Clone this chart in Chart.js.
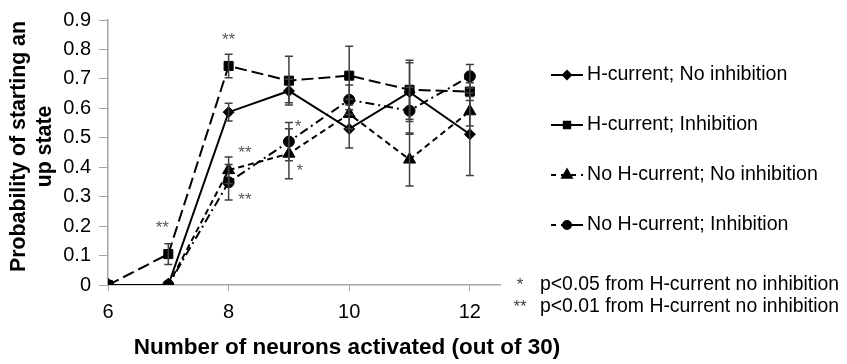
<!DOCTYPE html>
<html><head><meta charset="utf-8">
<script src="https://cdn.jsdelivr.net/npm/chart.js@4.4.1/dist/chart.umd.min.js"></script>
<style>html,body{margin:0;padding:0;background:#fff;}#wrap{width:847px;height:364px;}</style>
</head><body><div id="wrap"><canvas id="c" width="847" height="364"></canvas></div>
<script>
// ---- data ----
const neurons = [6, 7, 8, 9, 10, 11, 12];
const xTickValues = [6, 8, 10, 12];
const yTickValues = [0, 0.1, 0.2, 0.3, 0.4, 0.5, 0.6, 0.7, 0.8, 0.9];
const yTickLabels = ['0', '0.1', '0.2', '0.3', '0.4', '0.5', '0.6', '0.7', '0.8', '0.9'];
const seriesLabels = ['H-current; No inhibition', 'H-current; Inhibition', 'No H-current; No inhibition', 'No H-current; Inhibition'];
const hCurrentNoInhibition = [0, 0, 0.587, 0.659, 0.530, 0.655, 0.512];
const hCurrentNoInhibitionErr = [0, 0, 0.030, 0.040, 0.065, 0.100, 0.140];
const hCurrentInhibition = [0, 0.105, 0.744, 0.694, 0.711, 0.663, 0.657];
const hCurrentInhibitionErr = [0, 0.035, 0.040, 0.083, 0.100, 0.100, 0.030];
const noHCurrentNoInhibition = [0, 0, 0.390, 0.446, 0.581, 0.426, 0.590];
const noHCurrentNoInhibitionErr = [0, 0, 0.045, 0.085, 0.050, 0.090, 0.050];
const noHCurrentInhibition = [0, 0, 0.349, 0.487, 0.629, 0.592, 0.709];
const noHCurrentInhibitionErr = [0, 0, 0.060, 0.065, 0.050, 0.080, 0.040];
const starTexts = ['**', '**', '**', '**', '*', '*'];
const starX = [8, 8.27, 8.27, 6.9, 9.15, 9.18];
const starY = [0.845, 0.46, 0.30, 0.205, 0.55, 0.40];
const footnoteMarks = ['*', '**'];
const footnoteTexts = ['p<0.05 from H-current no inhibition', 'p<0.01 from H-current no inhibition'];
const xTitle = 'Number of neurons activated (out of 30)';
const yTitle = ['Probability of starting an', 'up state'];

// ---- styling ----
const FONT = "'Liberation Sans', Arial, sans-serif";
const AXIS = '#a6a6a6';
const values = [hCurrentNoInhibition, hCurrentInhibition, noHCurrentNoInhibition, noHCurrentInhibition];
const errs = [hCurrentNoInhibitionErr, hCurrentInhibitionErr, noHCurrentNoInhibitionErr, noHCurrentInhibitionErr];
const styles = [
  {pointStyle: 'rectRot', radius: 5.5, dash: [], legendDash: [], legendRadius: 4},
  {pointStyle: 'rect', radius: 6.4, dash: [12, 5], legendDash: [], legendRadius: 4.5},
  {pointStyle: 'triangle', radius: 7, dash: [6, 4], legendDash: [5, 5], legendRadius: 5.5},
  {pointStyle: 'circle', radius: 5.5, dash: [9, 4, 2, 4], legendDash: [5, 5, 30, 0], legendRadius: 4}
];

const datasets = values.map((vals, k) => ({
  label: seriesLabels[k],
  data: neurons.map((x, i) => ({x: x, y: vals[i]})),
  borderColor: '#000',
  backgroundColor: '#000',
  borderWidth: 2,
  borderDash: styles[k].dash,
  pointStyle: styles[k].pointStyle,
  pointRadius: styles[k].radius,
  pointBackgroundColor: '#000',
  pointBorderColor: '#000',
  pointBorderWidth: 1,
  tension: 0,
  fill: false
}));

const errorBars = {
  id: 'errorBars',
  afterDatasetsDraw(chart) {
    const {ctx, scales: {x, y}} = chart;
    ctx.save();
    ctx.strokeStyle = '#404040';
    ctx.lineWidth = 1.5;
    errs.forEach((e, k) => {
      neurons.forEach((n, i) => {
        if (!e[i]) return;
        const px = x.getPixelForValue(n);
        const top = y.getPixelForValue(values[k][i] + e[i]);
        const bot = y.getPixelForValue(values[k][i] - e[i]);
        ctx.beginPath();
        ctx.moveTo(px, top); ctx.lineTo(px, bot);
        ctx.moveTo(px - 4, top); ctx.lineTo(px + 4, top);
        ctx.moveTo(px - 4, bot); ctx.lineTo(px + 4, bot);
        ctx.stroke();
      });
    });
    ctx.restore();
  }
};

const extras = {
  id: 'extras',
  afterDraw(chart) {
    const {ctx, chartArea: a, scales: {x, y}} = chart;
    ctx.save();
    // axis titles
    ctx.fillStyle = '#000';
    ctx.textAlign = 'center';
    ctx.textBaseline = 'middle';
    ctx.font = 'bold 22.5px ' + FONT;
    ctx.fillText(xTitle, (a.left + a.right) / 2 + 43, 348);
    ctx.font = 'bold 21.3px ' + FONT;
    const ymid = (a.top + a.bottom) / 2 - 6;
    yTitle.forEach((t, i) => {
      ctx.save();
      ctx.translate(19 + i * 26, ymid);
      ctx.rotate(-Math.PI / 2);
      ctx.fillText(t, 0, 0);
      ctx.restore();
    });
    // significance stars
    ctx.fillStyle = '#595959';
    ctx.font = '17px ' + FONT;
    starTexts.forEach((t, i) => {
      ctx.fillText(t, x.getPixelForValue(starX[i]), y.getPixelForValue(starY[i]) + 4);
    });
    // legend
    const cy = (a.top + a.bottom) / 2 - 2.5;
    const rowGap = 50;
    const lx0 = a.right + 51, lx1 = a.right + 83;
    seriesLabels.forEach((lab, k) => {
      const ly = cy + (k - 1.5) * rowGap;
      ctx.strokeStyle = '#000';
      ctx.lineWidth = 2;
      ctx.setLineDash(styles[k].legendDash);
      ctx.beginPath(); ctx.moveTo(lx0, ly); ctx.lineTo(lx1, ly); ctx.stroke();
      ctx.setLineDash([]);
      ctx.fillStyle = '#000';
      Chart.helpers.drawPoint(ctx, {pointStyle: styles[k].pointStyle, radius: styles[k].legendRadius, rotation: 0, borderWidth: 1}, (lx0 + lx1) / 2, ly);
      ctx.font = '19.6px ' + FONT;
      ctx.textAlign = 'left';
      ctx.textBaseline = 'middle';
      ctx.fillStyle = '#000';
      ctx.fillText(lab, lx1 + 4, ly);
    });
    // footnotes
    footnoteTexts.forEach((t, i) => {
      const fy = a.bottom + i * 22;
      ctx.font = '17px ' + FONT;
      ctx.textAlign = 'center';
      ctx.fillStyle = '#404040';
      ctx.fillText(footnoteMarks[i], a.right + 20, fy);
      ctx.font = '19.4px ' + FONT;
      ctx.textAlign = 'left';
      ctx.fillStyle = '#000';
      ctx.fillText(t, a.right + 40, fy);
    });
    ctx.restore();
  }
};

new Chart(document.getElementById('c'), {
  type: 'line',
  data: {datasets: datasets},
  options: {
    responsive: false,
    animation: false,
    layout: {padding: {top: 14, right: 347, left: 0, bottom: 0}},
    plugins: {legend: {display: false}, tooltip: {enabled: false}},
    scales: {
      x: {
        type: 'linear', min: 6, max: 12.5,
        afterBuildTicks: s => { s.ticks = xTickValues.map(v => ({value: v})); },
        afterFit: s => { s.height = 79; },
        grid: {drawOnChartArea: false, drawTicks: true, tickLength: 6, color: AXIS, lineWidth: 1},
        border: {color: AXIS, width: 1.5},
        ticks: {font: {family: FONT, size: 20}, color: '#000', padding: 9, maxRotation: 0, autoSkip: false},
        title: {display: false}
      },
      y: {
        min: 0, max: 0.9,
        afterBuildTicks: s => { s.ticks = yTickValues.map(v => ({value: v})); },
        afterFit: s => { s.width = 108; },
        grid: {drawOnChartArea: false, drawTicks: true, tickLength: 9, color: AXIS, lineWidth: 1},
        border: {color: AXIS, width: 1.5},
        ticks: {font: {family: FONT, size: 20}, color: '#000', padding: 8,
          callback: (v, i) => yTickLabels[i]},
        title: {display: false}
      }
    }
  },
  plugins: [errorBars, extras]
});
</script></body></html>
